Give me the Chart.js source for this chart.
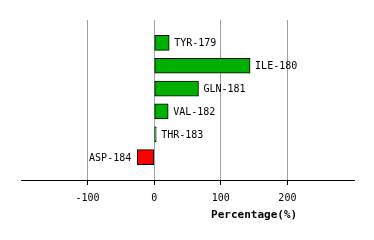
<!DOCTYPE html>
<html>
<head>
<meta charset="utf-8">
<script src="https://cdn.jsdelivr.net/npm/chart.js@4"></script>
<style>
  html, body { margin: 0; padding: 0; background: #fff; }
  #wrap { width: 374px; height: 240px; }
</style>
</head>
<body>
<div id="wrap"><canvas id="myChart" width="374" height="240"></canvas></div>
<script>
var residues = ['TYR-179', 'ILE-180', 'GLN-181', 'VAL-182', 'THR-183', 'ASP-184']
var percentages = [22.5, 144, 66.5, 21, 3, -25.5]
var tickValues = [-100, 0, 100, 200]
var axisTitle = 'Percentage(%)'

// blank slots top and bottom so bars sit on 1..6 of 7 gaps
var labels = [''].concat(residues, [''])
var values = [null].concat(percentages, [null])
var colors = values.map(v => (v !== null && v < 0) ? '#ff0000' : '#00b000')

const barLabels = {
  id: 'barLabels',
  afterDatasetsDraw(chart) {
    const ctx = chart.ctx
    const meta = chart.getDatasetMeta(0)
    ctx.save()
    ctx.font = '10px "DejaVu Sans Mono"'
    ctx.fillStyle = '#000'
    ctx.textBaseline = 'middle'
    meta.data.forEach((bar, i) => {
      const v = values[i]
      if (v === null) return
      if (v >= 0) {
        ctx.textAlign = 'left'
        ctx.fillText(labels[i], bar.x + 5, bar.y + 1)
      } else {
        ctx.textAlign = 'right'
        ctx.fillText(labels[i], bar.x - 6, bar.y + 1)
      }
    })
    // axis title, centred over the positive half
    const xs = chart.scales.x
    ctx.font = 'bold 11px "DejaVu Sans Mono"'
    ctx.textAlign = 'center'
    ctx.fillText(axisTitle, xs.getPixelForValue(150), 215)
    ctx.restore()
  }
}

const ctx = document.getElementById('myChart')

new Chart(ctx, {
  type: 'bar',
  data: {
    labels: labels,
    datasets: [{
      data: values,
      backgroundColor: colors,
      borderColor: '#000000',
      borderWidth: 1,
      borderSkipped: false,
      barThickness: 15
    }]
  },
  options: {
    indexAxis: 'y',
    responsive: false,
    animation: false,
    layout: { padding: { left: 21, right: 20, top: 20, bottom: 29 } },
    plugins: {
      legend: { display: false },
      tooltip: { enabled: false }
    },
    scales: {
      x: {
        min: -200,
        max: 300,
        afterBuildTicks: axis => { axis.ticks = tickValues.map(v => ({ value: v })) },
        grid: { color: '#a0a0a0', tickColor: '#000000', tickLength: 5, lineWidth: 1 },
        border: { color: '#000000', width: 1 },
        ticks: {
          color: '#000000',
          padding: 7,
          maxRotation: 0,
          font: { family: 'DejaVu Sans Mono', size: 10 }
        }
      },
      y: {
        display: false,
        offset: false
      }
    }
  },
  plugins: [barLabels]
});
</script>
</body>
</html>
